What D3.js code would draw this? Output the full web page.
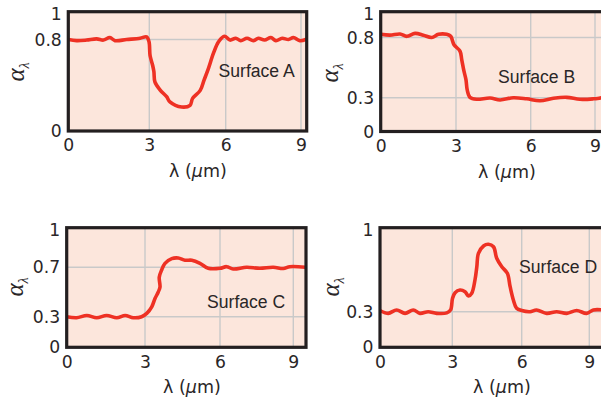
<!DOCTYPE html>
<html><head><meta charset="utf-8">
<script src="https://cdn.jsdelivr.net/npm/d3@7"></script>
<style>
html,body{margin:0;padding:0;background:#fff;}
svg{display:block;}
</style></head>
<body>
<svg id="chart" width="601" height="400"></svg>
<script>
// ---------- data ----------
const panelNames = ["Surface A", "Surface B", "Surface C", "Surface D"];
const xTickValues = [0, 3, 6, 9];
const yTicksA = [0, 0.8, 1];
const yTicksB = [0, 0.3, 0.8, 1];
const yTicksC = [0, 0.3, 0.7, 1];
const yTicksD = [0, 0.3, 1];

const lambdaA = [0,0.31,0.68,1.05,1.30,1.54,1.73,2.16,2.66,2.90,2.99,3.03,3.13,3.18,3.22,3.42,3.68,3.81,4.27,4.60,4.70,5.0,5.15,5.32,5.52,5.72,5.95,6.17,6.4,6.6,6.85,7.1,7.3,7.55,7.8,8.0,8.25,8.5,8.7,8.95,9.25];
const alphaA  = [0.80,0.79,0.795,0.805,0.795,0.815,0.79,0.80,0.81,0.82,0.78,0.66,0.575,0.52,0.43,0.36,0.30,0.255,0.21,0.225,0.285,0.355,0.445,0.545,0.68,0.78,0.825,0.795,0.81,0.79,0.81,0.79,0.81,0.795,0.815,0.79,0.81,0.80,0.815,0.79,0.805];

const lambdaB = [0,0.37,0.77,1.04,1.37,1.70,2.03,2.30,2.63,2.79,2.92,3.16,3.23,3.32,3.40,3.45,3.56,3.83,4.37,4.77,5.30,5.84,6.43,7.06,7.68,8.30,8.92,9.35];
const alphaB  = [0.827,0.82,0.83,0.81,0.835,0.82,0.80,0.827,0.827,0.81,0.74,0.687,0.617,0.52,0.45,0.365,0.303,0.286,0.297,0.28,0.30,0.29,0.273,0.295,0.303,0.286,0.29,0.30];

const lambdaC = [0,0.38,0.77,1.15,1.53,1.92,2.24,2.55,2.87,3.07,3.27,3.40,3.53,3.60,3.57,3.67,3.80,4.07,4.33,4.60,4.87,5.20,5.53,6.0,6.27,6.54,7.09,7.63,8.18,8.59,8.86,9.5];
const alphaC  = [0.30,0.29,0.31,0.29,0.31,0.29,0.31,0.29,0.30,0.327,0.38,0.447,0.50,0.54,0.62,0.68,0.732,0.77,0.775,0.757,0.757,0.732,0.692,0.692,0.705,0.686,0.70,0.692,0.70,0.69,0.705,0.70];

const lambdaD = [0,0.34,0.69,1.04,1.38,1.66,2.0,2.35,2.77,2.93,3.01,3.12,3.33,3.55,3.70,3.84,3.98,4.06,4.13,4.35,4.56,4.78,4.92,5.14,5.38,5.50,5.64,5.78,6.0,6.37,6.66,7.11,7.55,8.0,8.44,8.88,9.18,9.6];
const alphaD  = [0.31,0.286,0.315,0.286,0.315,0.286,0.30,0.286,0.29,0.315,0.414,0.462,0.485,0.47,0.434,0.457,0.57,0.683,0.797,0.86,0.874,0.853,0.755,0.683,0.627,0.513,0.40,0.33,0.31,0.30,0.315,0.286,0.30,0.286,0.31,0.286,0.315,0.315];

// ---------- layout (pixel positions only) ----------
const layout = [
  {name: panelNames[0], lam: lambdaA, alp: alphaA, yTicks: yTicksA,
   left: 68.3, right: 306.7, top: 11.7, bottom: 131,
   xPx: [68.3, 149.3, 225.7, 301], yPx: [131, 39.5, 13.5],
   lbl: [218.5, 76.5], xt: 198, yt: [16, 72]},
  {name: panelNames[1], lam: lambdaB, alp: alphaB, yTicks: yTicksB,
   left: 380.7, right: 615, top: 11.7, bottom: 131.5,
   xPx: [380.7, 456, 530.7, 595], yPx: [131.5, 97.7, 37.5, 14],
   lbl: [498, 83], xt: 507, yt: [330, 73]},
  {name: panelNames[2], lam: lambdaC, alp: alphaC, yTicks: yTicksC,
   left: 66.7, right: 306, top: 227.7, bottom: 347.3,
   xPx: [66.7, 145, 220, 293.3], yPx: [347.3, 316.7, 267.3, 230],
   lbl: [207, 308], xt: 192, yt: [15, 287]},
  {name: panelNames[3], lam: lambdaD, alp: alphaD, yTicks: yTicksD,
   left: 380, right: 615, top: 227.7, bottom: 347.3,
   xPx: [380, 452.3, 521.7, 589.3], yPx: [347.3, 311.7, 229.5],
   lbl: [519, 273], xt: 502, yt: [331, 287]}
];

const ink = "#2a2627";
const sans = "'DejaVu Sans', sans-serif";
const svg = d3.select("#chart");
const defs = svg.append("defs");

layout.forEach((p, i) => {
  const x = d3.scaleLinear().domain(xTickValues).range(p.xPx);
  const y = d3.scaleLinear().domain(p.yTicks).range(p.yPx);
  const g = svg.append("g");
  const w = p.right - p.left, h = p.bottom - p.top;

  defs.append("clipPath").attr("id", "clip" + i)
    .append("rect").attr("x", p.left).attr("y", p.top).attr("width", w).attr("height", h);

  g.append("rect").attr("x", p.left).attr("y", p.top).attr("width", w).attr("height", h)
    .attr("fill", "#fce6dc");

  // grid
  g.selectAll(".vg").data(xTickValues.filter(v => v > 0)).join("line")
    .attr("x1", d => x(d)).attr("x2", d => x(d))
    .attr("y1", p.top).attr("y2", p.bottom)
    .attr("stroke", "#c9c9c9").attr("stroke-width", 1.4);
  g.selectAll(".hg").data(p.yTicks.filter(v => v > 0 && v < 1)).join("line")
    .attr("x1", p.left).attr("x2", p.right)
    .attr("y1", d => y(d)).attr("y2", d => y(d))
    .attr("stroke", "#c9c9c9").attr("stroke-width", 1.4);

  // curve
  const pts = p.lam.map((l, k) => [l, p.alp[k]]);
  const line = d3.line().x(d => x(d[0])).y(d => y(d[1])).curve(d3.curveCatmullRom.alpha(0.5));
  g.append("path").datum(pts).attr("d", line)
    .attr("clip-path", "url(#clip" + i + ")")
    .attr("fill", "none").attr("stroke", "#ee3124").attr("stroke-width", 3.6)
    .attr("stroke-linejoin", "round").attr("stroke-linecap", "round");

  // frame
  g.append("rect").attr("x", p.left).attr("y", p.top).attr("width", w).attr("height", h)
    .attr("fill", "none").attr("stroke", "#231f20").attr("stroke-width", 3.2);

  // axes
  const xa = g.append("g").attr("transform", `translate(0,${p.bottom})`)
    .call(d3.axisBottom(x).tickValues(xTickValues).tickSize(0).tickPadding(8).tickFormat(d3.format("d")));
  const ya = g.append("g").attr("transform", `translate(${p.left},0)`)
    .call(d3.axisLeft(y).tickValues(p.yTicks).tickSize(0).tickPadding(6.5).tickFormat(d => d === 0 || d === 1 ? d3.format("d")(d) : d3.format(".1f")(d)));
  [xa, ya].forEach(a => {
    a.select(".domain").remove();
    a.attr("font-family", null).attr("font-size", null);
    a.selectAll("text").style("font-family", sans).style("font-size", "17.2px").style("fill", ink);
  });

  // panel label
  g.append("text").attr("x", p.lbl[0]).attr("y", p.lbl[1])
    .style("font-family", "'Liberation Sans', Arial, sans-serif")
    .style("font-size", "17.6px").style("fill", ink).text(p.name);

  // x title
  const xt = g.append("text").attr("x", p.xt).attr("y", p.bottom + 46)
    .attr("text-anchor", "middle")
    .style("font-family", sans).style("font-size", "17.5px").style("fill", ink);
  xt.append("tspan").text("λ (");
  xt.append("tspan").style("font-style", "italic").text("μ");
  xt.append("tspan").text("m)");

  // y title
  const yt = g.append("text")
    .attr("transform", `translate(${p.yt[0] + 8},${p.yt[1]}) rotate(-90)`)
    .attr("text-anchor", "middle").style("fill", ink)
    .style("font-family", "'Liberation Serif', serif").style("font-style", "italic");
  yt.append("tspan").style("font-size", "25px").text("α");
  yt.append("tspan").style("font-size", "14px").attr("dy", 5).text("λ");
});
</script>
</body></html>
